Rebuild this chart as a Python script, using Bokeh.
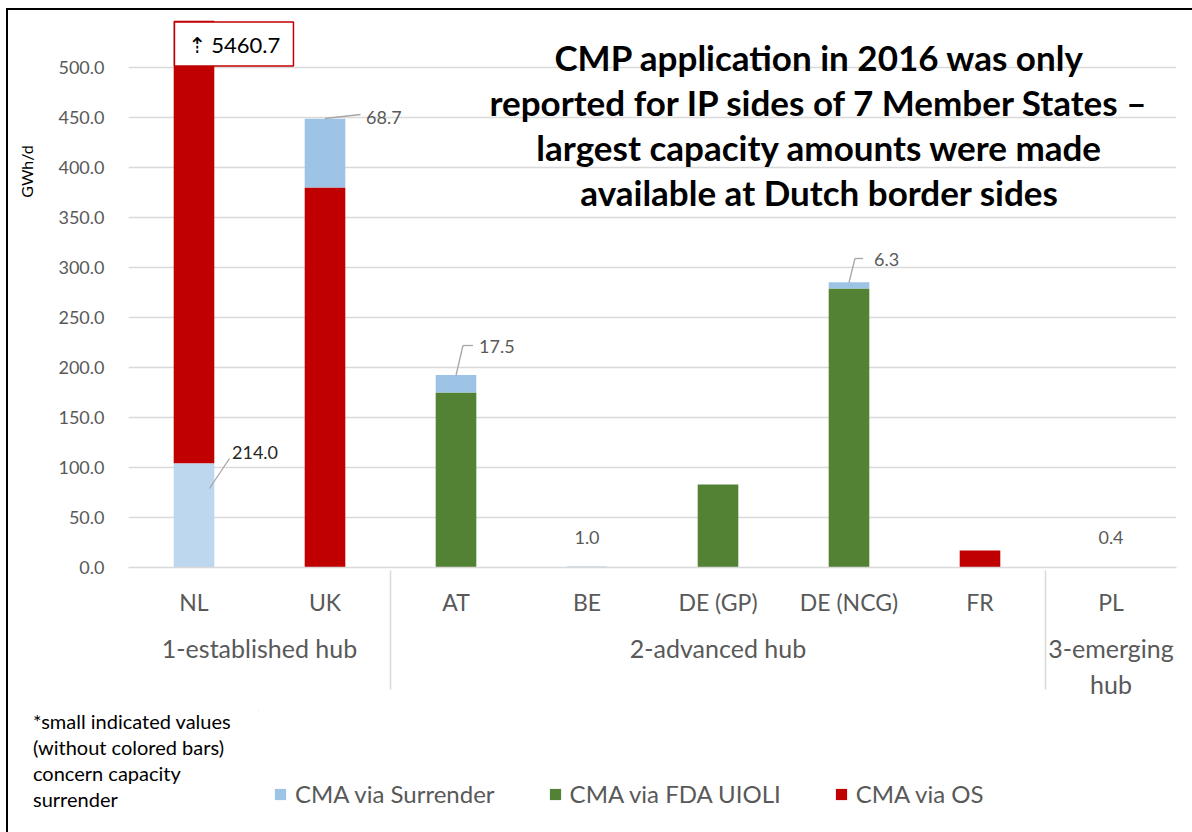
from bokeh.plotting import figure
from bokeh.layouts import column, row
from bokeh.models import (FactorRange, ColumnDataSource, Label, Legend, LegendItem, Div,
                          FixedTicker, NumeralTickFormatter, Range1d)
from bokeh.core.properties import value
from bokeh.embed import file_html
from bokeh.resources import INLINE

# ---------------- data ----------------
hub_groups = ["1-established hub", "1-established hub",
              "2-advanced hub", "2-advanced hub", "2-advanced hub", "2-advanced hub", "2-advanced hub",
              "3-emerging\nhub"]
countries = ["NL", "UK", "AT", "BE", "DE (GP)", "DE (NCG)", "FR", "PL"]
# CMA via Surrender (NL bar is drawn shortened in the original; its label reads 214.0)
cma_surrender = [104.0, 68.7, 17.5, 1.0, 0.0, 6.3, 0.0, 0.4]
cma_surrender_labels = ["214.0", "68.7", "17.5", "1.0", "", "6.3", "", "0.4"]
cma_fda_uioli = [0.0, 0.0, 175.0, 0.0, 83.0, 279.0, 0.0, 0.0]
cma_os = [5460.7, 380.0, 0.0, 0.0, 0.0, 0.0, 17.0, 0.0]
y_ticks = [0, 50, 100, 150, 200, 250, 300, 350, 400, 450, 500]
series_names = ["CMA via Surrender", "CMA via FDA UIOLI", "CMA via OS"]
title_lines = ["CMP application in 2016 was only",
               "reported for IP sides of 7 Member States \u2013",
               "largest capacity amounts were made",
               "available at Dutch border sides"]
footnote_lines = ["*small indicated values", "(without colored bars)",
                  "concern capacity", "surrender"]

# ---------------- styles ----------------
FONT = "Lato"
GREY_TXT = "#595959"
GRID = "#D9D9D9"
C_SURR = "#9DC3E6"
C_SURR_NL = "#BDD7EE"
C_FDA = "#548235"
C_OS = "#C00000"
OX, OY = 8, 10          # canvas origin on the page (after margin + border)
SPLIT = 710             # page y where the chart figure ends and the notes strip starts
NOTE_W = 240            # width of the footnote block

factors = list(zip(hub_groups, countries))

# stacking: NL has surrender at the bottom, all others have it on top
surr_bottom, surr_top, os_bottom, os_top, fda_top = [], [], [], [], []
for c, s, f, o in zip(countries, cma_surrender, cma_fda_uioli, cma_os):
    if c == "NL":
        surr_bottom.append(0.0); surr_top.append(s)
        os_bottom.append(s); os_top.append(s + o)
    else:
        os_bottom.append(0.0); os_top.append(o)
        surr_bottom.append(o + f); surr_top.append(o + f + s)
    fda_top.append(f)

src = ColumnDataSource(dict(
    x=factors, surr_bottom=surr_bottom, surr_top=surr_top,
    os_bottom=os_bottom, os_top=os_top, fda_top=fda_top,
    surr_color=[C_SURR_NL if c == "NL" else C_SURR for c in countries],
))

W = 1192 - OX
H1 = SPLIT - OY
p = figure(x_range=FactorRange(*factors, factor_padding=0, group_padding=0, range_padding=0),
           y_range=(0, 547), width=W, height=H1,
           output_backend="svg", toolbar_location=None,
           min_border_left=128 - OX, min_border_right=16, min_border_top=20 - OY,
           min_border_bottom=H1 - (567 - OY))
p.outline_line_color = None
p.background_fill_color = "white"
p.border_fill_color = "white"

BAR_W = 0.31
p.vbar(x="x", bottom="os_bottom", top="os_top", width=BAR_W, source=src,
       fill_color=C_OS, line_color=None)
p.vbar(x="x", bottom=0, top="fda_top", width=BAR_W, source=src,
       fill_color=C_FDA, line_color=None)
p.vbar(x="x", bottom="surr_bottom", top="surr_top", width=BAR_W, source=src,
       fill_color="surr_color", line_color=None)

# axes
p.yaxis.ticker = FixedTicker(ticks=y_ticks)
p.yaxis.formatter = NumeralTickFormatter(format="0.0")
p.yaxis.axis_line_color = None
p.yaxis.major_tick_line_color = None
p.yaxis.minor_tick_line_color = None
p.yaxis.major_label_text_font = FONT
p.yaxis.major_label_text_font_size = "18px"
p.yaxis.major_label_text_color = GREY_TXT
p.yaxis.major_label_standoff = 18

p.ygrid.grid_line_color = GRID
p.ygrid.grid_line_width = 1.5
p.xgrid.grid_line_color = None

xa = p.xaxis[0]
xa.axis_line_color = GRID
xa.axis_line_width = 1.5
xa.major_tick_line_color = None
xa.minor_tick_line_color = None
xa.major_label_text_font = FONT
xa.major_label_text_font_size = "23px"
xa.major_label_text_color = GREY_TXT
xa.major_label_standoff = 14
xa.group_text_font = FONT
xa.group_text_font_size = "25px"
xa.group_text_font_style = "normal"
xa.group_text_color = GREY_TXT
xa.separator_line_color = GRID
xa.separator_line_width = 1.5

# data labels with leader lines
lbl_dx = [38, 41, 23, 0, 0, 25, 0, 0]
lbl_y = [115, 450, 221, 30, 0, 308, 0, 30]
lbl_align = ["left", "left", "left", "center", "left", "left", "left", "center"]
lbl_color = ["#262626"] + [GREY_TXT] * 7
keep = [i for i, t in enumerate(cma_surrender_labels) if t]
lab_src = ColumnDataSource(dict(
    x=[factors[i] for i in keep], y=[lbl_y[i] for i in keep],
    text=[cma_surrender_labels[i] for i in keep], dx=[lbl_dx[i] for i in keep],
    align=[lbl_align[i] for i in keep], color=[lbl_color[i] for i in keep]))
p.text(x="x", y="y", text="text", x_offset="dx", text_align="align", text_baseline="middle",
       text_color="color", text_font=value(FONT), text_font_size="18px", source=lab_src)

def off(i, d):
    return (hub_groups[i], countries[i], d)

seg_src = ColumnDataSource(dict(
    x0=[off(0, 0.118), off(1, 0.0), off(2, 0.0), off(2, 0.053), off(5, 0.0), off(5, 0.046)],
    x1=[off(0, 0.271), off(1, 0.271), off(2, 0.053), off(2, 0.13), off(5, 0.046), off(5, 0.107)],
    y0=[79, 449, 192, 222, 285, 309],
    y1=[109, 453, 222, 222, 309, 309]))
p.segment(x0="x0", y0="y0", x1="x1", y1="y1", source=seg_src, line_color="#A6A6A6", line_width=1.3)

# NL overflow value box
box_src = ColumnDataSource(dict(x=[off(0, 0.305)], y=[523.5],
                                text=["\u21e1 " + f"{cma_os[0]:.1f}"]))
p.rect(x="x", y="y", width=119, height=44, width_units="screen", height_units="screen",
       fill_color="white", line_color=C_OS, line_width=1.5, source=box_src)
p.text(x="x", y="y", text="text", text_align="center", text_baseline="middle",
       text_color="black", text_font=value(FONT), text_font_size="22px", source=box_src)

# title (inside the frame)
for i, t in enumerate(title_lines):
    p.add_layout(Label(x=819 - OX, y=56 + 45.3 * i - OY, x_units="canvas", y_units="canvas", text=t,
                       text_align="center", text_baseline="middle", text_font=FONT,
                       text_font_size="35px", text_font_style="bold", text_color="black"))

# y axis title (left panel, outside the frame)
p.add_layout(Label(x=26 - OX, y=171 - OY, x_units="canvas", y_units="canvas", text="GWh/d",
                   angle=1.5708, text_align="center", text_baseline="middle", text_font=FONT,
                   text_font_size="16px", text_color="black"), "left")

# ---------------- notes strip: footnote + legend ----------------
note = Div(text="<div style=\"padding-left:20px; margin-top:-7px; font-family:Lato; font-size:20px; "
                "line-height:26px; color:black; white-space:nowrap;\">"
                + "<br>".join(footnote_lines) + "</div>",
           width=NOTE_W, height=832 - SPLIT)

QX = OX + NOTE_W
q = figure(width=1192 - QX, height=832 - SPLIT, x_range=Range1d(QX, 1192),
           y_range=Range1d(832, SPLIT),
           x_axis_type=None, y_axis_type=None, output_backend="svg", toolbar_location=None,
           min_border=0, min_border_left=0, min_border_right=0, min_border_top=0, min_border_bottom=0)
q.outline_line_color = None
q.xgrid.visible = False
q.ygrid.visible = False
q.background_fill_color = "white"
q.border_fill_color = "white"

# legend proxies (zero-height bars outside the strip's visible range)
lr = [q.vbar(x=[0], bottom=[0], top=[0], width=1, fill_color=c, line_color=None)
      for c in (C_SURR, C_FDA, C_OS)]
legend = Legend(items=[LegendItem(label=n, renderers=[r]) for n, r in zip(series_names, lr)],
                location=(263 - QX, 832 - 808), orientation="horizontal",
                glyph_width=14, glyph_height=14, label_standoff=8, spacing=53,
                label_text_font=FONT, label_text_font_size="24px", label_text_color=GREY_TXT,
                label_text_line_height=1.0,
                padding=0, margin=0, border_line_color=None, background_fill_alpha=0)
q.add_layout(legend)

page = column(p, row(note, q, spacing=0), spacing=0,
              styles={"margin-left": "6px", "margin-top": "8px",
                      "border-top": "2px solid black", "border-left": "2px solid black"})

open("out.html", "w").write(file_html(page, INLINE))
